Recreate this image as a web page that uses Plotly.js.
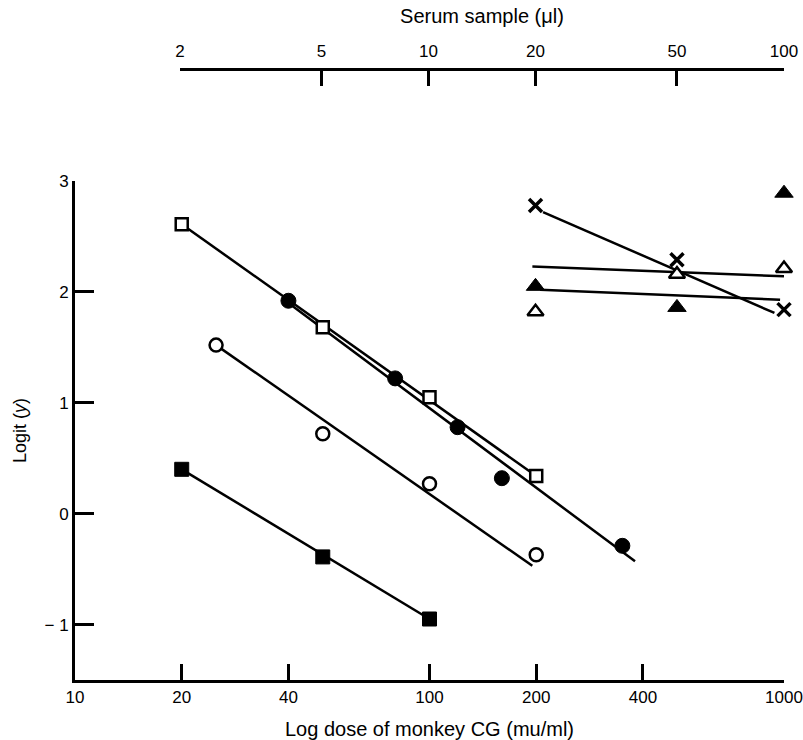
<!DOCTYPE html>
<html>
<head>
<meta charset="utf-8">
<script src="https://cdn.plot.ly/plotly-3.0.1.min.js"></script>
<style>html,body{margin:0;padding:0;background:#fff;}#chart{width:803px;height:740px;}</style>
</head>
<body>
<div id="chart"></div>
<script>
// ---- data ----
// bottom axis: dose of monkey CG (mu/ml)
const doseFilledSquare = [20, 50, 100];
const logitFilledSquare = [0.40, -0.39, -0.95];
const doseOpenCircle = [25, 50, 100, 200];
const logitOpenCircle = [1.52, 0.72, 0.27, -0.37];
const doseOpenSquare = [20, 50, 100, 200];
const logitOpenSquare = [2.61, 1.68, 1.05, 0.34];
const doseFilledCircle = [40, 80, 120, 160, 350];
const logitFilledCircle = [1.92, 1.22, 0.78, 0.32, -0.29];

// fitted lines (end points)
const fitDoseOpenSquare = [20, 200];
const fitLogitOpenSquare = [2.61, 0.34];
const fitDoseFilledCircle = [40, 380];
const fitLogitFilledCircle = [1.90, -0.43];
const fitDoseOpenCircle = [25, 195];
const fitLogitOpenCircle = [1.52, -0.47];
const fitDoseFilledSquare = [20, 100];
const fitLogitFilledSquare = [0.40, -0.95];

// top axis: serum sample (µl)
const serumCross = [20, 50, 100];
const logitCross = [2.78, 2.29, 1.84];
const serumOpenTri = [20, 50, 100];
const logitOpenTri = [1.82, 2.16, 2.21];
const serumFilledTri = [20, 50, 100];
const logitFilledTri = [2.05, 1.86, 2.89];

const fitSerumCross = [21, 94];
const fitLogitCross = [2.72, 1.81];
const fitSerumOpenTri = [19.6, 100];
const fitLogitOpenTri = [2.23, 2.14];
const fitSerumFilledTri = [20.6, 97.5];
const fitLogitFilledTri = [2.02, 1.93];

// ticks
const doseTicks = [10, 20, 40, 100, 200, 400, 1000];
const serumTicks = [2, 5, 10, 20, 50, 100];
const logitTicks = [-1, 0, 1, 2, 3];
const logitTickText = ['\u2212 1', '0', '1', '2', '3'];

// ---- layout geometry ----
const W = 803, H = 740;
const L = 75, R = 19, T = 69, B = 60;
const plotW = W - L - R, plotH = H - T - B;
const yTopPx = 181;               // pixel of logit = 3
const yDomTop = (H - B - yTopPx) / plotH;
const serumStartPx = 180;         // pixel where serum axis starts (2 µl)
const x2DomStart = (serumStartPx - L) / plotW;

const lineStyle = {color: '#000', width: 2.5};
function fit(x, y, xa) {
  return {x: x, y: y, mode: 'lines', line: lineStyle, xaxis: xa, yaxis: 'y', hoverinfo: 'skip', showlegend: false};
}
function pts(x, y, xa, marker) {
  return {x: x, y: y, mode: 'markers', marker: marker, xaxis: xa, yaxis: 'y', showlegend: false, cliponaxis: false};
}

const traces = [
  fit(fitDoseOpenSquare, fitLogitOpenSquare, 'x'),
  fit(fitDoseFilledCircle, fitLogitFilledCircle, 'x'),
  fit(fitDoseOpenCircle, fitLogitOpenCircle, 'x'),
  fit(fitDoseFilledSquare, fitLogitFilledSquare, 'x'),
  fit(fitSerumCross, fitLogitCross, 'x2'),
  fit(fitSerumOpenTri, fitLogitOpenTri, 'x2'),
  fit(fitSerumFilledTri, fitLogitFilledTri, 'x2'),
  pts(doseFilledSquare, logitFilledSquare, 'x', {symbol: 'square', size: 14, color: '#000', line: {color: '#000', width: 1}}),
  pts(doseOpenCircle, logitOpenCircle, 'x', {symbol: 'circle', size: 13, color: '#fff', line: {color: '#000', width: 2.5}}),
  pts(doseOpenSquare, logitOpenSquare, 'x', {symbol: 'square', size: 12, color: '#fff', line: {color: '#000', width: 2.5}}),
  pts(doseFilledCircle, logitFilledCircle, 'x', {symbol: 'circle', size: 15, color: '#000', line: {color: '#000', width: 1}}),
  pts(serumCross, logitCross, 'x2', {symbol: 'x-thin', size: 13, color: '#000', line: {color: '#000', width: 3.5}}),
  pts(serumOpenTri, logitOpenTri, 'x2', {symbol: 'triangle-up', size: 14, color: '#fff', line: {color: '#000', width: 2.5}}),
  pts(serumFilledTri, logitFilledTri, 'x2', {symbol: 'triangle-up', size: 16, color: '#000', line: {color: '#000', width: 1}})
];

const font = {family: '"Liberation Sans", Arial, Helvetica, sans-serif', color: '#000'};
const tickFont = Object.assign({}, font, {size: 17});
const titleFont = Object.assign({}, font, {size: 20});
const yTitleFont = Object.assign({}, font, {size: 18});

const layout = {
  width: W, height: H,
  margin: {l: L, r: R, t: T, b: B, pad: 0},
  paper_bgcolor: '#fff', plot_bgcolor: 'rgba(0,0,0,0)',
  font: font,
  showlegend: false,
  xaxis: {
    type: 'log', range: [1, 3], domain: [0, 1], anchor: 'y',
    tickmode: 'array', tickvals: doseTicks, ticktext: doseTicks.map(String),
    ticks: 'inside', ticklen: 16, tickwidth: 3, tickcolor: '#000',
    showline: true, linewidth: 3, linecolor: '#000',
    showgrid: false, zeroline: false, tickfont: tickFont,
    title: {text: 'Log dose of monkey CG (mu/ml)', font: titleFont, standoff: 18},
    automargin: false
  },
  xaxis2: {
    type: 'log', range: [Math.log10(2), 2], domain: [x2DomStart, 1],
    anchor: 'free', position: 1, side: 'top',
    tickmode: 'array', tickvals: serumTicks, ticktext: serumTicks.map(String),
    ticks: 'inside', ticklen: 15, tickwidth: 3, tickcolor: '#000',
    ticklabelstandoff: 4,
    showline: true, linewidth: 3, linecolor: '#000',
    showgrid: false, zeroline: false, tickfont: tickFont,
    title: {text: 'Serum sample (\u03bcl)', font: titleFont, standoff: 12},
    automargin: false
  },
  yaxis: {
    range: [-1.5, 3], domain: [0, yDomTop], anchor: 'x',
    tickmode: 'array', tickvals: logitTicks, ticktext: logitTickText,
    ticks: 'inside', ticklen: 19, tickwidth: 3, tickcolor: '#000',
    showline: true, linewidth: 3, linecolor: '#000',
    showgrid: false, zeroline: false, tickfont: tickFont,
    title: {text: 'Logit (<i>y</i>)', font: yTitleFont, standoff: 14},
    automargin: false
  }
};

Plotly.newPlot('chart', traces, layout, {displayModeBar: false, staticPlot: true});
</script>
</body>
</html>
